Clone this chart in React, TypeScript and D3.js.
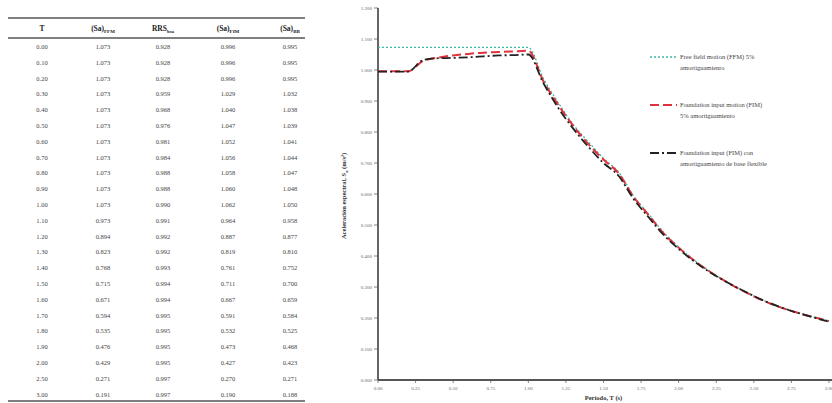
import React from "react";
import * as d3 from "d3";

const periods = [0.0, 0.1, 0.2, 0.3, 0.4, 0.5, 0.6, 0.7, 0.8, 0.9, 1.0, 1.1, 1.2, 1.3, 1.4, 1.5, 1.6, 1.7, 1.8, 1.9, 2.0, 2.5, 3.0];
const saFFM = [1.073, 1.073, 1.073, 1.073, 1.073, 1.073, 1.073, 1.073, 1.073, 1.073, 1.073, 0.973, 0.894, 0.823, 0.768, 0.715, 0.671, 0.594, 0.535, 0.476, 0.429, 0.271, 0.191];
const rrs = [0.928, 0.928, 0.928, 0.959, 0.968, 0.976, 0.981, 0.984, 0.988, 0.988, 0.990, 0.991, 0.992, 0.992, 0.993, 0.994, 0.994, 0.995, 0.995, 0.995, 0.995, 0.997, 0.997];
const saFIM = [0.996, 0.996, 0.996, 1.029, 1.040, 1.047, 1.052, 1.056, 1.058, 1.060, 1.062, 0.964, 0.887, 0.819, 0.761, 0.711, 0.667, 0.591, 0.532, 0.473, 0.427, 0.270, 0.190];
const saBB = [0.995, 0.995, 0.995, 1.032, 1.038, 1.039, 1.041, 1.044, 1.047, 1.048, 1.050, 0.958, 0.877, 0.810, 0.752, 0.700, 0.659, 0.584, 0.525, 0.468, 0.423, 0.271, 0.188];

const yTicks = [0, 0.1, 0.2, 0.3, 0.4, 0.5, 0.6, 0.7, 0.8, 0.9, 1.0, 1.1, 1.2];
const xTicks = [0, 0.25, 0.5, 0.75, 1.0, 1.25, 1.5, 1.75, 2.0, 2.25, 2.5, 2.75, 3.0];

const legendItems = [
  { lines: ["Free field motion (FFM) 5%", "amortiguamiento"], color: "#3fb9a4", dash: "2,2", width: 1.3 },
  { lines: ["Foundation input motion (FIM)", "5% amortiguamiento"], color: "#e0323c", dash: "9,4", width: 2 },
  { lines: ["Foundation input (FIM) con", "amortiguamiento de base flexible"], color: "#222", dash: "9,3,2,3", width: 2 },
];

const serif = "'Liberation Serif', 'DejaVu Serif', serif";

export default function App() {
  const W = 832, H = 403;
  const x0 = 378, x1 = 829, yTop = 8, yBot = 380;
  const x = d3.scaleLinear().domain([0, 3]).range([x0, x1]);
  const y = d3.scaleLinear().domain([0, 1.2]).range([yBot, yTop]);

  const mk = (vals: number[]) =>
    d3.line<number>().x((_, i) => x(periods[i])).y((v) => y(v)).curve(d3.curveMonotoneX)(vals) || "";

  // table layout
  const colX = [42, 103, 163, 228, 290];
  const rowY0 = 47, rowStep = 15.8;
  const fmt = (v: number) => v.toFixed(3);
  const fmtT = (v: number) => v.toFixed(2);

  const header = [
    { main: "T", sub: "" },
    { main: "(Sa)", sub: "FFM" },
    { main: "RRS", sub: "bsa" },
    { main: "(Sa)", sub: "FIM" },
    { main: "(Sa)", sub: "BB" },
  ];

  return (
    <svg width={W} height={H} style={{ position: "absolute", left: 0, top: 0, background: "#fff" }}>
      {/* Table */}
      <line x1={8} x2={305} y1={18} y2={18} stroke="#555" strokeWidth={1.6} />
      <line x1={8} x2={305} y1={38} y2={38} stroke="#555" strokeWidth={1.6} />
      <line x1={8} x2={305} y1={401} y2={401} stroke="#555" strokeWidth={1.6} />
      {header.map((h, i) => (
        <text key={i} x={colX[i]} y={31} textAnchor="middle" fontFamily={serif} fontWeight="bold" fontSize={7.5} fill="#222">
          {h.main}
          {h.sub && <tspan fontSize={5} dy={2}>{h.sub}</tspan>}
        </text>
      ))}
      {periods.map((t, r) => {
        const yy = rowY0 + r * rowStep + 2;
        const cells = [fmtT(t), fmt(saFFM[r]), fmt(rrs[r]), fmt(saFIM[r]), fmt(saBB[r])];
        return cells.map((c, i) => (
          <text key={r + "-" + i} x={colX[i]} y={yy} textAnchor="middle" fontFamily={serif} fontSize={6.5} fill="#444">
            {c}
          </text>
        ));
      })}

      {/* Chart axes */}
      {yTicks.map((t) => (
        <g key={"y" + t}>
          <line x1={x0 - 4} x2={x0} y1={y(t)} y2={y(t)} stroke="#666" strokeWidth={0.8} />
          <text x={x0 - 6} y={y(t) + 1.8} textAnchor="end" fontFamily={serif} fontSize={5} fill="#666">
            {t.toFixed(3)}
          </text>
        </g>
      ))}
      {xTicks.map((t) => (
        <g key={"x" + t}>
          <line x1={x(t)} x2={x(t)} y1={yBot} y2={yBot + 3} stroke="#666" strokeWidth={0.8} />
          <text x={x(t)} y={yBot + 10} textAnchor="middle" fontFamily={serif} fontSize={5} fill="#666">
            {t.toFixed(2)}
          </text>
        </g>
      ))}
      <line x1={x0} x2={x0} y1={yTop} y2={yBot} stroke="#555" strokeWidth={1.8} />
      <line x1={x0} x2={W} y1={yBot} y2={yBot} stroke="#555" strokeWidth={1.8} />

      <text x={(x0 + x1) / 2} y={400} textAnchor="middle" fontFamily={serif} fontSize={6.5} fontWeight="bold" fill="#333">
        Período, T (s)
      </text>
      <text transform={`translate(346,196) rotate(-90)`} textAnchor="middle" fontFamily={serif} fontSize={6.5} fontWeight="bold" fill="#333">
        Aceleración espectral, S<tspan fontSize={4.5} dy={1.5}>a</tspan><tspan dy={-1.5}> (m/s²)</tspan>
      </text>

      {/* Series */}
      <path d={mk(saFFM)} fill="none" stroke={legendItems[0].color} strokeWidth={1.3} strokeDasharray="2,2" />
      <path d={mk(saFIM)} fill="none" stroke={legendItems[1].color} strokeWidth={2} strokeDasharray="9,4" />
      <path d={mk(saBB)} fill="none" stroke={legendItems[2].color} strokeWidth={1.8} strokeDasharray="9,3,2,3" />

      {/* Legend */}
      {legendItems.map((it, i) => {
        const ly = 57 + i * 48;
        return (
          <g key={"lg" + i}>
            <line x1={650} x2={677} y1={ly} y2={ly} stroke={it.color} strokeWidth={it.width} strokeDasharray={it.dash} />
            {it.lines.map((l, j) => (
              <text key={j} x={680} y={ly + 2 + j * 10.5} fontFamily={serif} fontSize={6.5} fill="#444">
                {l}
              </text>
            ))}
          </g>
        );
      })}
    </svg>
  );
}
